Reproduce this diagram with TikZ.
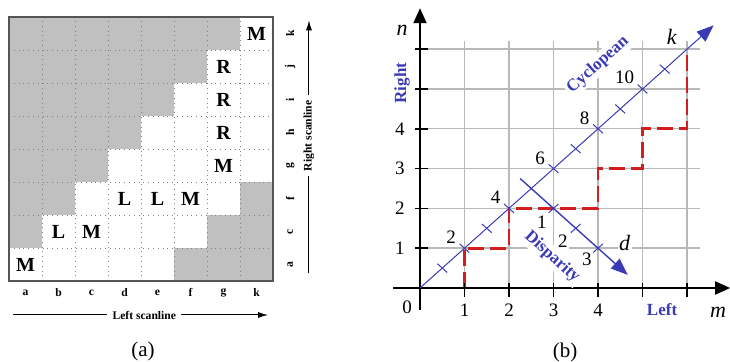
\documentclass[tikz,border=0pt]{standalone}
\usepackage{fontspec}
\setmainfont{Liberation Serif}
\usetikzlibrary{arrows.meta}
\definecolor{cellgray}{HTML}{C0C0C0}
\definecolor{framegray}{HTML}{555555}
\definecolor{cycblue}{HTML}{3A3AB4}
\definecolor{pathred}{HTML}{D21E1E}
\definecolor{gridgray}{HTML}{B8B8B8}

\begin{document}
\begin{tikzpicture}[x=0.5pt,y=-0.5pt,
  cellmark/.style={font=\fontsize{10}{10}\selectfont\bfseries},
  scanlabel/.style={font=\fontsize{5.8}{6}\selectfont\bfseries},
  axislabel/.style={font=\fontsize{8.5}{9}\selectfont\bfseries,text=cycblue},
  numlabel/.style={font=\fontsize{9.5}{10}\selectfont,inner sep=0.8pt,fill=white},
  varlabel/.style={font=\fontsize{11}{11}\selectfont\itshape,inner sep=0.8pt},
  caption/.style={font=\fontsize{10.5}{11}\selectfont}]
  \useasboundingbox (0,0) rectangle (730,362);

  % (a) match matrix of the two scanlines
  \begin{scope}[shift={(9,281)},x=16.5pt,y=16.5pt]
    \foreach \r in {2,...,8}
      \fill[cellgray] (0,\r-1) rectangle (\r-1,\r);
    \foreach \r in {1,2,3}
      \fill[cellgray] (\r+4,\r-1) rectangle (8,\r);
    \foreach \i in {1,...,7} {
      \draw[gray,dotted] (\i,0) -- (\i,8);
      \draw[gray,dotted] (0,\i) -- (8,\i);
    }
    \draw[framegray,line width=0.6pt] (0,0) rectangle (8,8);
    \foreach \c/\r/\t in {1/1/M,2/2/L,3/2/M,4/3/L,5/3/L,6/3/M,7/4/M,7/5/R,7/6/R,7/7/R,8/8/M}
      \node[cellmark] (m\c\r) at (\c-0.5,\r-0.5) {\t};
    \foreach \l [count=\i] in {a,b,c,d,e,f,g,k}
      \node[scanlabel] (col\l) at (\i-0.5,-0.36) {\l};
    \foreach \l [count=\i] in {a,c,f,g,h,i,j,k}
      \node[scanlabel,rotate=90] (row\l) at (8.52,\i-0.5) {\l};
    % scanline arrows
    \coordinate (lsA) at (0.12,-1.03);
    \coordinate (lsB) at (7.85,-1.03);
    \node[scanlabel,inner sep=2.5pt] (lscan) at (4.1,-1.03) {Left scanline};
    \draw[line width=0.5pt] (lsA) -- (lscan.west);
    \draw[line width=0.5pt,-{Latex[length=5pt,width=3pt]}] (lscan.east) -- (lsB);
    \coordinate (rsA) at (9.09,0.24);
    \coordinate (rsB) at (9.09,7.9);
    \node[scanlabel,rotate=90,inner sep=2.5pt] (rscan) at (9.09,4.4) {Right scanline};
    \draw[line width=0.5pt] (rsA) -- (rscan.west);
    \draw[line width=0.5pt,-{Latex[length=5pt,width=3pt]}] (rscan.east) -- (rsB);
    \node[caption] (capa) at (4.06,-2.15) {(a)};
  \end{scope}

  % (b) cyclopean and disparity axes
  \begin{scope}[shift={(420,288)},x=22.25pt,y=19.9pt]
    \foreach \i in {1,...,6} {
      \draw[gridgray,line width=0.7pt] (\i,0) -- (\i,6.2);
      \draw[gridgray,line width=0.7pt] (0,\i) -- (6.3,\i);
    }
    \draw[pathred,line width=1.4pt,dash pattern=on 8pt off 3pt]
      (0,0) -| (1,1) -| (2,2) -| (4,3) -| (5,4) -| (6,5.85);
    \coordinate (O) at (0,0);
    \coordinate (xA) at (-0.6,0);
    \coordinate (xB) at (6.97,0);
    \coordinate (yA) at (0,-0.55);
    \coordinate (yB) at (0,7.03);
    \draw[line width=1pt,-{Triangle[length=7.5pt,width=6.5pt]}] (xA) -- (xB);
    \draw[line width=1pt,-{Triangle[length=7.5pt,width=6.5pt]}] (yA) -- (yB);
    \foreach \i in {1,...,6} {
      \draw[line width=0.8pt] (\i,0.12) -- (\i,-0.22);
      \draw[line width=0.8pt] (-0.11,\i) -- (0.18,\i);
    }
    \foreach \i in {1,...,4} {
      \node[numlabel,fill=none] (xl\i) at (\i,-0.55) {\i};
      \node[numlabel,fill=none] (yl\i) at (-0.45,\i) {\i};
    }
    \node[numlabel,fill=none] (zero) at (-0.29,-0.48) {0};
    \node[varlabel] (nlab) at (-0.4,6.48) {n};
    \node[varlabel] (mlab) at (6.7,-0.6) {m};
    \node[axislabel,rotate=90] (right) at (-0.4,5.15) {Right};
    \node[axislabel] (left) at (5.44,-0.55) {Left};
    % cyclopean axis
    \coordinate (cA) at (0,0);
    \coordinate (cB) at (6.6,6.6);
    \draw[cycblue,line width=0.5pt,-{Triangle[length=8.5pt,width=6.5pt]}] (cA) -- (cB);
    \foreach \t in {0.5,1,1.5,2,3,3.5,4,4.5,5,5.5}
      \draw[cycblue,line width=0.5pt] (\t-0.11,\t+0.11) -- (\t+0.11,\t-0.11);
    \foreach \i/\n in {1/2,2/4,3/6,4/8}
      \node[numlabel,fill=none] (c\n) at (\i-0.3,\i+0.27) {\n};
    \node[numlabel,fill=none] (c10) at (4.6,5.3) {10};
    \node[varlabel] (klab) at (5.66,6.3) {k};
    \node[axislabel,rotate=41.8,fill=white,inner sep=1pt] (cyc) at (4.0,5.6) {Cyclopean};
    % disparity axis
    \coordinate (dA) at (2.25,2.75);
    \coordinate (dB) at (4.67,0.33);
    \draw[cycblue,line width=0.7pt,-{Triangle[length=8.5pt,width=6.5pt]}] (dA) -- (dB);
    \foreach \x/\y in {3/2,3.5/1.5,4/1}
      \draw[cycblue,line width=0.5pt] (\x-0.11,\y-0.11) -- (\x+0.11,\y+0.11);
    \node[numlabel] (d1) at (2.74,1.66) {1};
    \node[numlabel] (d2) at (3.21,1.18) {2};
    \node[numlabel] (d3) at (3.75,0.73) {3};
    \node[varlabel,fill=white] (dlab) at (4.6,1.13) {d};
    \node[axislabel,rotate=-41.8,fill=white,inner sep=1pt] (disp) at (2.97,0.78) {Disparity};
    \node[caption] (capb) at (3.26,-1.61) {(b)};
  \end{scope}
\end{tikzpicture}
\end{document}
